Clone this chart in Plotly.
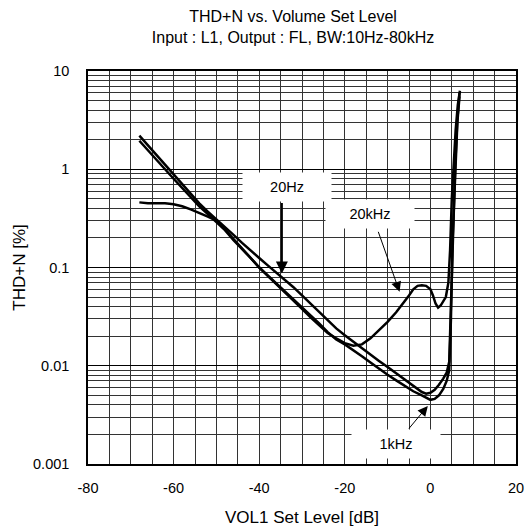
import plotly.graph_objects as go
import math

# ---- data ----
x_1k = [-68, -66, -64, -62, -60, -58, -56, -54, -52, -50, -48, -46, -44, -42, -40, -38, -36, -34, -32, -30,
        -28, -26, -24, -22, -20, -18, -16, -14, -12, -10, -8, -6, -4, -2, -1, 0, 1, 2, 3, 3.8, 4.4, 4.8, 5.2, 5.8, 6.3, 6.8]
y_1k = [1.95, 1.55, 1.25, 1.0, 0.80, 0.64, 0.52, 0.42, 0.35, 0.29, 0.24, 0.19, 0.155, 0.125, 0.100, 0.083, 0.069, 0.057, 0.047, 0.039,
        0.032, 0.027, 0.022, 0.0185, 0.0165, 0.0145, 0.0125, 0.0108, 0.0093, 0.0081, 0.0071, 0.0062, 0.0055, 0.0050, 0.0047, 0.0045, 0.0046, 0.0050, 0.0058, 0.0070, 0.0090, 0.03, 0.2, 1.0, 3.0, 5.5]

x_20 = [-68, -66, -64, -62, -60, -58, -56, -54, -52, -50, -48, -46, -44, -42, -40, -38, -36, -34, -32, -30,
        -28, -26, -24, -22, -20, -18, -16, -14, -12, -10, -8, -6, -4, -2, -1, 0, 1, 2, 3, 3.8, 4.4, 4.8, 5.2, 5.8, 6.3, 6.8]
y_20 = [2.2, 1.75, 1.4, 1.1, 0.88, 0.70, 0.56, 0.45, 0.37, 0.31, 0.26, 0.215, 0.178, 0.148, 0.125, 0.105, 0.089, 0.076, 0.063, 0.052,
        0.043, 0.035, 0.029, 0.024, 0.0204, 0.0175, 0.015, 0.013, 0.0112, 0.0097, 0.0084, 0.0072, 0.0062, 0.0054, 0.0052, 0.0053, 0.0057, 0.0064, 0.0074, 0.0085, 0.011, 0.04, 0.25, 1.1, 3.2, 6.0]

x_20k = [-68, -66, -64, -62, -60, -58, -56, -54, -52, -50, -48, -46, -44, -42, -40, -38, -36, -34, -32, -30,
         -28, -26, -24, -22, -20, -18, -16, -14, -12, -10, -8, -6, -5, -4, -3, -2, -1, 0, 0.6, 1.2, 1.8, 2.4, 3.0, 3.6, 4.2, 4.6, 5.0, 5.4, 5.9, 6.4, 6.9]
y_20k = [0.46, 0.45, 0.45, 0.45, 0.44, 0.42, 0.39, 0.36, 0.33, 0.30, 0.245, 0.195, 0.155, 0.125, 0.100, 0.082, 0.068, 0.056, 0.046, 0.038,
         0.031, 0.026, 0.0215, 0.019, 0.017, 0.016, 0.0165, 0.019, 0.023, 0.028, 0.035, 0.045, 0.052, 0.060, 0.065, 0.066, 0.065, 0.060, 0.052, 0.043, 0.039, 0.041, 0.045, 0.050, 0.07, 0.15, 0.5, 1.2, 2.5, 4.5, 6.3]

x_ticks = [-80, -60, -40, -20, 0, 20]
x_tick_text = ["-80", "-60", "-40", "-20", "0", "20"]
y_ticks = [0.001, 0.01, 0.1, 1, 10]
y_tick_text = ["0.001", "0.01", "0.1", "1", "10"]

labels = ["20Hz", "20kHz", "1kHz"]
label_x = [-33.6, -14.2, -8.0]
label_y = [0.655, 0.348, 0.0016]
tip_x = [-34.7, -7.2, -0.6]
tip_y = [0.087, 0.0565, 0.0039]
tail_x = [-34.7, -12.3, -5.3]
tail_y = [0.47, 0.239, 0.00222]
arrow_w = [2, 1, 1]

FONT = "Liberation Sans, Arial, sans-serif"
fig = go.Figure()
for xs, ys in [(x_20k, y_20k), (x_20, y_20), (x_1k, y_1k)]:
    fig.add_trace(go.Scatter(x=xs, y=ys, mode="lines",
                             line=dict(color="black", width=2.5), showlegend=False))

for i in range(3):
    fig.add_annotation(x=tip_x[i], y=math.log10(tip_y[i]), ax=tail_x[i], ay=math.log10(tail_y[i]),
                       xref="x", yref="y", axref="x", ayref="y", text="", showarrow=True,
                       arrowhead=2, arrowsize=1.2 if arrow_w[i] == 2 else 2, arrowwidth=arrow_w[i], arrowcolor="black")
for i in range(3):
    fig.add_annotation(x=label_x[i], y=math.log10(label_y[i]), xref="x", yref="y", text=labels[i],
                       showarrow=False, bgcolor="white", width=86, height=26,
                       font=dict(family=FONT, size=14.5, color="black"))

grid = "#333333"
fig.update_layout(
    width=528, height=531,
    margin=dict(l=87.5, r=11.5, t=70.5, b=67),
    paper_bgcolor="white", plot_bgcolor="white",
    font=dict(family=FONT, size=14.5, color="black"),
    title=dict(text="THD+N vs. Volume Set Level<br>Input : L1, Output : FL, BW:10Hz-80kHz",
               x=0.555, xanchor="center", yref="container", y=(531 - 22) / 531, yanchor="bottom",
               font=dict(size=16)),
    xaxis=dict(range=[-80, 20], tickmode="array", tickvals=x_ticks, ticktext=x_tick_text,
               showgrid=True, gridcolor=grid, gridwidth=1,
               minor=dict(dtick=5, showgrid=True, gridcolor=grid, gridwidth=1),
               showline=True, linecolor="black", linewidth=1.5, mirror=True, zeroline=False,
               ticks="", ticklabelstandoff=10, automargin=False,
               title=dict(text="VOL1 Set Level [dB]", standoff=16)),
    yaxis=dict(type="log", range=[-3, 1], tickmode="array", tickvals=y_ticks, ticktext=y_tick_text,
               showgrid=True, gridcolor="black", gridwidth=1,
               minor=dict(dtick="D1", showgrid=True, gridcolor=grid, gridwidth=1),
               showline=True, linecolor="black", linewidth=1.5, mirror=True, zeroline=False,
               ticks="", ticklabelstandoff=14, automargin=False,
               title=dict(text="THD+N [%]", standoff=3)),
)
fig.write_html("out.html", config={"displayModeBar": False},
               post_script="document.body.style.margin='0';document.body.style.overflow='hidden';")
